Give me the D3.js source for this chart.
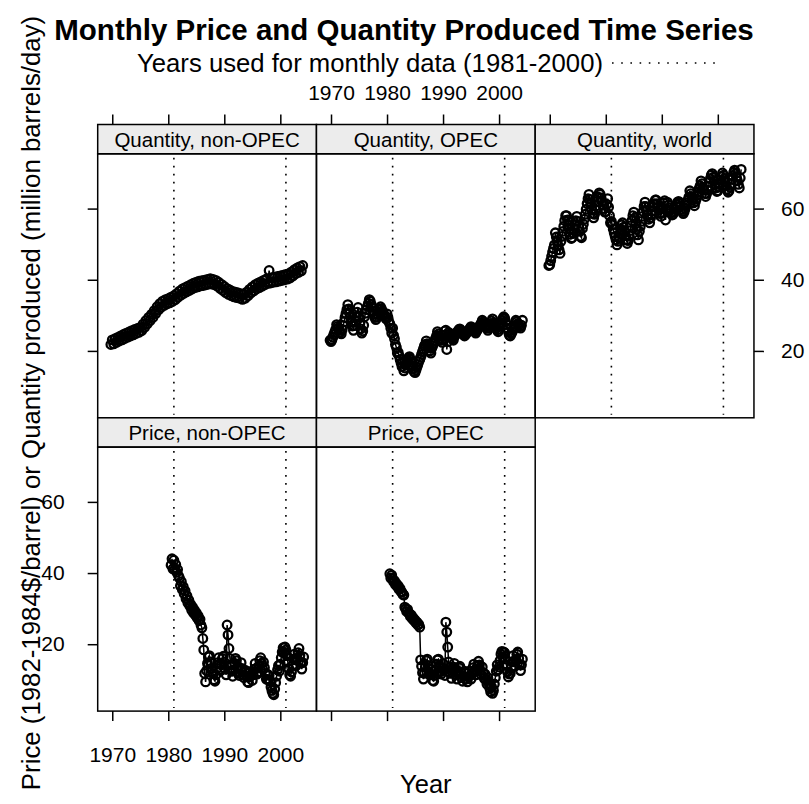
<!DOCTYPE html>
<html>
<head>
<meta charset="utf-8">
<script src="https://cdn.jsdelivr.net/npm/d3@7"></script>
<style>
  body { margin: 0; background: #fff; }
  text { font-family: "Liberation Sans", Arial, sans-serif; fill: #000; }
</style>
</head>
<body>
<div id="chart"></div>
<script>
// non-OPEC quantity is read quarterly, the other series every two months
const quarterStep = 0.25;
const biMonthStep = 1 / 6;
const qtyNonOpecStart = 1969.75;
const qtyStart = 1969.8333;
const priceStart = 1980.5;

const qtyNonOpec = [
  21.8,
  23.1, 22.0, 23.4, 22.4, 23.8, 22.8, 24.2, 23.1, 24.6, 23.5, 25.0, 23.9,
  25.3, 24.2, 25.7, 24.5, 26.0, 24.9, 26.3, 25.2, 26.6, 25.7, 27.5, 26.6,
  28.5, 27.6, 29.4, 28.5, 30.3, 29.4, 31.3, 30.5, 32.4, 31.5, 33.3, 32.3,
  34.0, 32.8, 34.4, 33.2, 34.7, 33.5, 35.1, 33.9, 35.5, 34.4, 36.1, 35.1,
  36.8, 35.7, 37.4, 36.2, 37.8, 36.6, 38.2, 37.0, 38.6, 37.4, 39.0, 37.8,
  39.3, 38.0, 39.6, 38.3, 39.7, 38.4, 39.9, 38.6, 40.1, 38.8, 40.3, 38.8,
  40.1, 38.6, 39.8, 38.2, 39.3, 37.6, 38.7, 37.0, 38.1, 36.4, 37.5, 35.9,
  37.1, 35.5, 36.7, 35.2, 36.5, 35.0, 36.3, 34.8, 36.0, 34.5, 36.0, 34.8,
  36.5, 35.5, 37.3, 36.3, 38.0, 36.9, 38.6, 37.4, 39.0, 37.8, 39.4, 38.2,
  39.8, 38.6, 40.2, 39.0, 42.6, 39.1, 40.6, 39.3, 40.7, 39.4, 40.9, 39.6,
  41.1, 39.8, 41.3, 40.0, 41.5, 40.2, 41.7, 40.5, 42.2, 41.1, 42.8, 41.7,
  43.3, 42.1, 43.7, 42.5, 44.0
];

const qtyOpec = [
  23.0,
  22.6, 23.2, 23.9, 24.6, 25.3, 26.0,  27.4, 26.9, 26.4, 25.8, 25.3, 24.8,
  26.0, 27.1, 28.2, 29.4, 30.5, 31.6,  33.0, 31.8, 30.6, 29.4, 28.2, 27.0,
  25.8, 27.1, 28.4, 29.6, 30.9, 32.2,  29.6, 27.8, 26.2, 25.0, 25.6, 27.2,
  29.6, 30.6, 31.6, 32.5, 33.4, 34.4,  34.0, 33.1, 32.2, 31.2, 30.3, 29.4,
  28.8, 29.5, 30.2, 31.0, 31.7, 32.4,  31.8, 31.2, 30.6, 30.1, 29.5, 29.0,
  30.4, 29.4, 28.2, 27.6, 26.4, 25.0,  26.4, 24.4, 23.4, 21.8, 21.0, 19.4,
  19.6, 18.6, 17.6, 16.6, 15.6, 17.0,  14.4, 15.2, 16.0, 16.8, 17.4, 18.0,
  18.4, 17.6, 16.8, 15.8, 15.0, 14.2,  13.9, 14.6, 15.4, 16.2, 17.0, 17.6,
  18.2, 19.0, 19.8, 20.6, 21.4, 21.8,  22.8, 22.0, 21.4, 20.8, 20.0, 19.4,
  20.8, 21.5, 22.2, 22.8, 23.5, 24.2,  25.4, 24.8, 24.2, 23.6, 23.0, 22.4,
  23.2, 24.4, 25.6, 25.8, 20.4, 22.6,  25.2, 24.8, 24.4, 23.9, 23.4, 23.0,
  24.0, 24.4, 24.8, 25.2, 25.6, 26.0,  26.2, 25.8, 25.4, 25.0, 24.6, 24.2,
  24.6, 25.0, 25.3, 25.7, 26.0, 26.4,  26.8, 26.4, 26.1, 25.7, 25.4, 25.0,
  25.6, 26.0, 26.5, 26.9, 27.4, 27.8,  28.6, 28.2, 27.7, 27.3, 26.8, 26.4,
  25.8, 26.4, 27.1, 27.7, 28.4, 29.0,  27.8, 27.3, 26.8, 26.4, 25.9, 25.4,
  27.0, 27.5, 28.0, 28.6, 29.1, 29.6,  29.2, 28.2, 27.4, 26.4, 25.4, 24.4,
  24.2, 24.8, 25.3, 25.9, 26.4, 27.0,  28.6, 28.2, 27.7, 27.3, 26.8, 26.4,
  27.2, 28.6
];

const qtyWorld = [
  44.0,
  44.2, 45.4, 46.6, 47.8, 48.8, 49.8,  53.2, 52.0, 50.8, 49.6, 48.4, 47.4,
  50.8, 52.2, 53.6, 55.0, 56.6, 58.0,  58.0, 56.8, 55.4, 54.2, 52.8, 51.6,
  51.8, 53.0, 54.2, 55.4, 56.6, 57.8,  56.4, 55.0, 53.6, 52.2, 51.8, 54.4,
  55.6, 57.0, 58.4, 59.8, 61.4, 62.8,  64.0, 62.6, 61.2, 59.8, 58.6, 57.4,
  58.4, 59.6, 60.8, 62.0, 63.2, 64.4,  64.0, 63.0, 62.0, 61.0, 60.0, 59.0,
  59.2, 61.2, 62.8, 60.4, 58.0, 56.0,  56.4, 55.4, 54.2, 53.2, 52.2, 51.2,
  49.8, 50.8, 51.8, 53.0, 54.2, 55.4,  56.0, 54.8, 53.6, 52.4, 51.2, 50.2,
  51.0, 52.4, 53.8, 55.2, 56.6, 58.0,  59.0, 57.4, 55.8, 54.2, 52.6, 51.2,
  53.6, 55.0, 56.4, 57.8, 59.2, 60.6,  61.8, 60.6, 59.4, 58.2, 57.0, 56.0,
  57.4, 58.4, 59.4, 60.4, 61.4, 62.4,  62.4, 61.4, 60.4, 59.6, 58.6, 57.8,
  58.8, 60.2, 61.6, 62.2, 56.8, 59.4,  61.8, 61.0, 60.2, 59.6, 58.8, 58.2,
  58.4, 59.0, 59.8, 60.6, 61.2, 61.8,  62.0, 61.4, 60.6, 59.8, 59.2, 58.6,
  59.2, 60.0, 60.8, 61.6, 62.4, 63.2,  65.0, 64.2, 63.4, 62.4, 61.6, 60.8,
  62.0, 62.8, 63.8, 64.6, 65.6, 66.4,  67.8, 67.0, 66.0, 65.2, 64.2, 63.4,
  64.2, 65.2, 66.2, 67.4, 68.4, 69.4,  69.8, 68.8, 67.8, 66.8, 65.8, 64.8,
  65.0, 66.0, 67.0, 68.0, 69.0, 70.0,  69.4, 68.4, 67.4, 66.4, 65.4, 64.6,
  65.0, 66.0, 67.0, 68.2, 69.2, 70.2,  70.8, 69.8, 68.8, 67.8, 66.8, 65.8,
  68.6, 71.0
];

const priceNonOpec = [
  42.2, 44.0, 41.2,
  43.6, 41.0, 42.4, 40.2, 41.0, 39.2,  38.6, 36.4, 37.6, 35.4, 36.2, 34.2,
  35.0, 32.8, 33.6, 31.6, 32.4, 30.8,  31.2, 29.6, 30.4, 28.8, 29.6, 28.2,
  28.8, 27.4, 28.0, 26.6, 27.0, 25.4,  24.6, 21.6, 18.4, 11.8, 9.4, 12.6,
  14.6, 16.4, 16.8, 15.0, 13.2, 12.4,  11.8, 10.0, 9.6, 11.4, 13.2, 14.8,
  16.2, 14.4, 12.6, 14.2, 16.0, 16.6,  15.0, 13.0, 11.4, 25.4, 22.6, 18.8,
  16.0, 14.2, 12.4, 11.0, 12.8, 14.6,  16.0, 15.4, 13.6, 11.8, 11.2, 13.0,
  14.8, 13.2, 11.4, 10.6, 12.2, 12.6,  11.0, 9.4, 9.2, 10.8, 12.2, 11.2,
  9.8, 11.4, 13.0, 14.6, 13.2, 11.6,  12.2, 13.8, 15.4, 16.2, 14.6, 13.0,
  15.0, 13.4, 11.8, 10.2, 11.6, 10.0,  11.2, 9.6, 8.0, 7.0, 6.2, 5.8,
  7.4, 9.2, 11.0, 12.8, 14.0, 12.4,  14.4, 16.2, 17.8, 19.0, 17.6, 19.2,
  18.4, 16.8, 15.0, 13.2, 11.4, 11.0,  12.2, 14.0, 15.8, 17.2, 15.6, 14.0,
  16.0, 17.6, 18.8, 16.8, 14.8, 13.0,
  14.8, 16.4
];

const priceOpec = [
  39.8, 38.6, 39.4,
  38.4, 37.6, 37.8, 36.8, 37.0, 36.2,  36.4, 35.4, 35.6, 34.8, 34.6, 34.0,
  33.8, 30.4, 30.0, 29.2, 29.8, 28.8,  28.6, 27.8, 28.2, 27.2, 27.4, 26.6,
  26.8, 26.0, 26.2, 25.4, 25.6, 24.8,  15.6, 13.8, 12.0, 10.2, 11.8, 13.6,
  15.4, 15.8, 14.0, 12.2, 11.4, 13.0,  11.4, 9.8, 9.6, 11.2, 12.8, 14.4,
  15.6, 15.8, 14.0, 12.2, 11.6, 13.2,  14.6, 12.8, 11.2, 26.2, 23.4, 19.2,
  15.0, 13.4, 11.8, 10.4, 12.0, 13.6,  14.6, 13.0, 11.4, 10.2, 11.8, 13.4,
  13.8, 12.2, 10.6, 9.6, 11.0, 12.4,  11.8, 10.2, 9.4, 10.8, 12.4, 11.2,
  10.2, 11.8, 13.4, 14.4, 12.8, 11.4,  12.4, 14.0, 15.2, 14.2, 12.6, 11.4,
  13.6, 12.0, 10.4, 11.6, 10.0, 8.8,  10.6, 9.0, 7.6, 6.6, 8.0, 6.2,
  7.0, 8.8, 10.6, 12.4, 14.2, 12.8,  13.6, 15.4, 17.2, 18.0, 16.4, 17.8,
  17.6, 15.8, 14.0, 12.2, 10.8, 11.6,  11.8, 13.4, 15.0, 16.8, 15.2, 13.8,
  15.6, 17.2, 17.8, 16.0, 14.2, 12.6,
  14.2, 15.8
];

const panelNames = [
  "Quantity, non-OPEC",
  "Quantity, OPEC",
  "Quantity, world",
  "Price, non-OPEC",
  "Price, OPEC",
];
const monthlyYears = [1981, 2001];
const xTicks = [1970, 1980, 1990, 2000];
const yTicks = [20, 40, 60];

const width = 809;
const height = 804;
const gridLeft = 97.7;
const gridTop = 124.5;
const panelW = 218.75;
const panelH = 264;
const stripH = 29.3;
const tickLen = 10;

const xScale = d3.scaleLinear().domain([1967.4, 2006.45]).range([0, panelW]);
const yScale = d3.scaleLinear().domain([1.2, 75.4]).range([panelH, 0]);

const toPoints = (values, start, step) =>
  values.map((v, i) => ({ year: start + i * step, value: v }));

const panels = [
  { name: panelNames[0], col: 0, row: 0, data: toPoints(qtyNonOpec, qtyNonOpecStart, quarterStep) },
  { name: panelNames[1], col: 1, row: 0, data: toPoints(qtyOpec, qtyStart, biMonthStep) },
  { name: panelNames[2], col: 2, row: 0, data: toPoints(qtyWorld, qtyStart, biMonthStep) },
  { name: panelNames[3], col: 0, row: 1, data: toPoints(priceNonOpec, priceStart, biMonthStep) },
  { name: panelNames[4], col: 1, row: 1, data: toPoints(priceOpec, priceStart, biMonthStep) },
];

const svg = d3
  .select("#chart")
  .append("svg")
  .attr("width", width)
  .attr("height", height);

svg.append("rect").attr("width", width).attr("height", height).attr("fill", "#fff");

// title and key
svg
  .append("text")
  .attr("x", 404)
  .attr("y", 40)
  .attr("text-anchor", "middle")
  .attr("font-size", 29.5)
  .attr("font-weight", "bold")
  .text("Monthly Price and Quantity Produced Time Series");

svg
  .append("text")
  .attr("x", 137)
  .attr("y", 72)
  .attr("font-size", 25.7)
  .text("Years used for monthly data (1981-2000)");

svg
  .append("line")
  .attr("x1", 612)
  .attr("x2", 715)
  .attr("y1", 63)
  .attr("y2", 63)
  .attr("stroke", "#000")
  .attr("stroke-width", 1.6)
  .attr("stroke-dasharray", "1.6,7.6");

const line = d3
  .line()
  .x((d) => xScale(d.year))
  .y((d) => yScale(d.value));

function styleAxis(g, labelled) {
  g.select(".domain").remove();
  g.selectAll(".tick line").attr("stroke", "#000").attr("stroke-width", 1.5);
  g.selectAll(".tick text")
    .attr("font-size", 21)
    .attr("font-family", '"Liberation Sans", Arial, sans-serif')
    .attr("fill", "#000");
  if (!labelled) g.selectAll(".tick text").remove();
}

const yearFormat = d3.format("d");

panels.forEach((p) => {
  const g = svg
    .append("g")
    .attr(
      "transform",
      "translate(" + (gridLeft + p.col * panelW) + "," + (gridTop + p.row * (stripH + panelH)) + ")"
    );

  // strip
  g.append("rect")
    .attr("width", panelW)
    .attr("height", stripH)
    .attr("fill", "#ececec")
    .attr("stroke", "#000")
    .attr("stroke-width", 1.5);

  g.append("text")
    .attr("x", panelW / 2)
    .attr("y", stripH / 2 + 7.5)
    .attr("text-anchor", "middle")
    .attr("font-size", 20.5)
    .text(p.name);

  const plot = g.append("g").attr("transform", "translate(0," + stripH + ")");

  plot
    .selectAll(".monthly")
    .data(monthlyYears)
    .enter()
    .append("line")
    .attr("class", "monthly")
    .attr("x1", (d) => xScale(d))
    .attr("x2", (d) => xScale(d))
    .attr("y1", 4)
    .attr("y2", panelH - 3)
    .attr("stroke", "#000")
    .attr("stroke-width", 1.6)
    .attr("stroke-dasharray", "1.6,6.4");

  plot
    .append("path")
    .datum(p.data)
    .attr("d", line)
    .attr("fill", "none")
    .attr("stroke", "#000")
    .attr("stroke-width", 1.5);

  plot
    .selectAll("circle")
    .data(p.data)
    .enter()
    .append("circle")
    .attr("cx", (d) => xScale(d.year))
    .attr("cy", (d) => yScale(d.value))
    .attr("r", 4.3)
    .attr("fill", "none")
    .attr("stroke", "#000")
    .attr("stroke-width", 2.3);

  plot
    .append("rect")
    .attr("width", panelW)
    .attr("height", panelH)
    .attr("fill", "none")
    .attr("stroke", "#000")
    .attr("stroke-width", 1.5);

  // axes, lattice style: alternating labels
  if (p.row === 0) {
    g.append("g")
      .call(
        d3.axisTop(xScale).tickValues(xTicks).tickFormat(yearFormat).tickSize(tickLen).tickPadding(15)
      )
      .call((a) => styleAxis(a, p.col === 1));
  }
  if (p.row === 1) {
    plot
      .append("g")
      .attr("transform", "translate(0," + panelH + ")")
      .call(
        d3.axisBottom(xScale).tickValues(xTicks).tickFormat(yearFormat).tickSize(tickLen).tickPadding(26)
      )
      .call((a) => styleAxis(a, p.col === 0));
  }
  if (p.col === 0) {
    plot
      .append("g")
      .call(d3.axisLeft(yScale).tickValues(yTicks).tickSize(tickLen).tickPadding(23))
      .call((a) => styleAxis(a, p.row === 1));
  }
  if (p.col === 2) {
    plot
      .append("g")
      .attr("transform", "translate(" + panelW + ",0)")
      .call(d3.axisRight(yScale).tickValues(yTicks).tickSize(tickLen).tickPadding(17))
      .call((a) => styleAxis(a, true));
  }
});

// axis titles
svg
  .append("text")
  .attr("x", gridLeft + (3 * panelW) / 2)
  .attr("y", 793)
  .attr("text-anchor", "middle")
  .attr("font-size", 25.5)
  .text("Year");

svg
  .append("text")
  .attr("transform", "translate(40,403) rotate(-90)")
  .attr("text-anchor", "middle")
  .attr("font-size", 25.8)
  .text("Price (1982-1984$/barrel) or Quantity produced (million barrels/day)");
</script>
</body>
</html>
